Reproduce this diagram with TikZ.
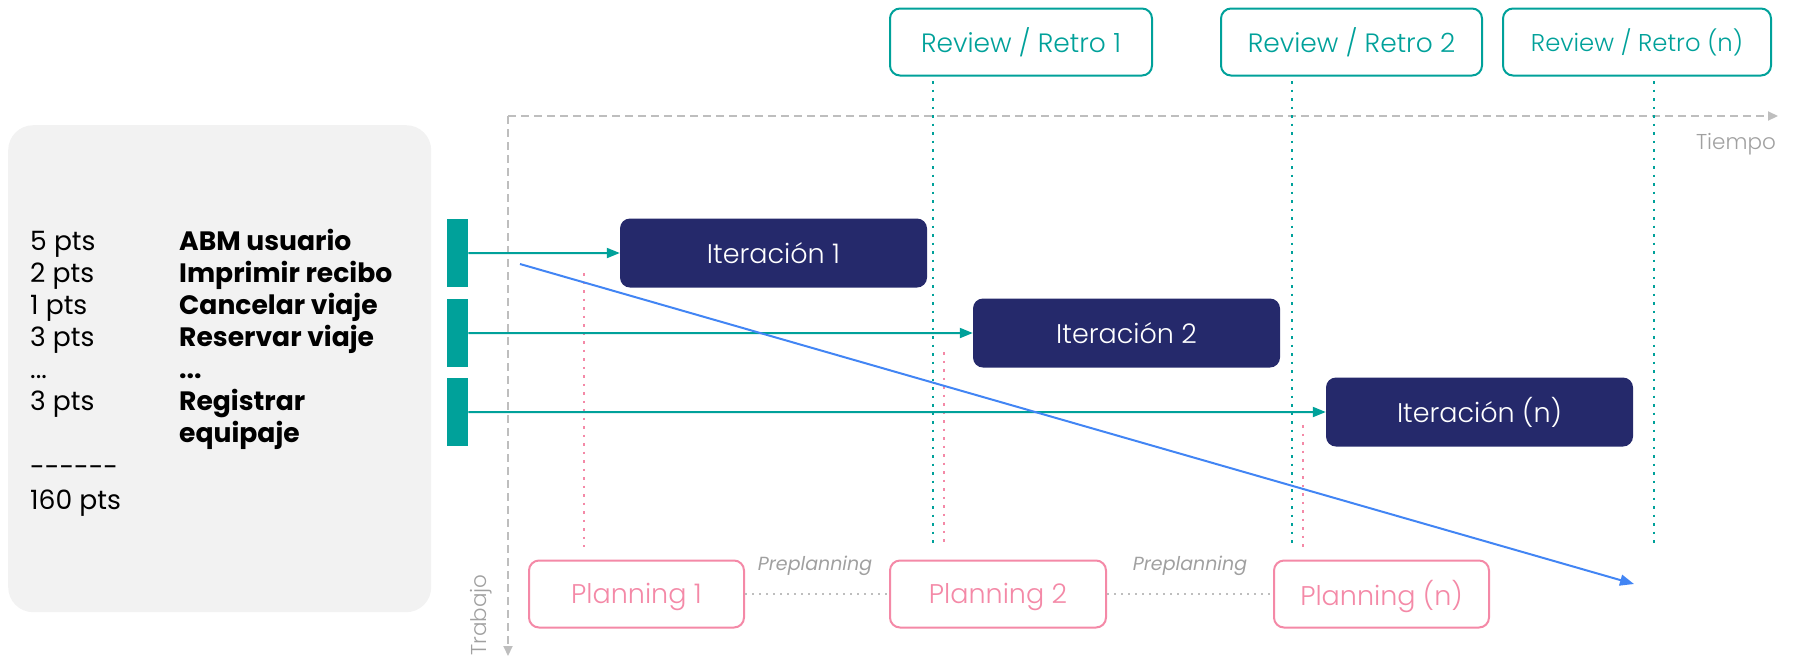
\documentclass[tikz,border=0pt]{standalone}
\usepackage{fontspec}
\setmainfont{Poppins}
\newfontfamily\poplight{Poppins Light}
\usetikzlibrary{arrows.meta}
\definecolor{tealc}{RGB}{0,161,154}
\definecolor{navy}{RGB}{37,41,107}
\definecolor{pinkc}{RGB}{244,137,167}
\definecolor{bluec}{RGB}{66,133,244}
\definecolor{panelgray}{RGB}{242,242,242}
\definecolor{axisgray}{RGB}{190,190,190}
\definecolor{labelgray}{RGB}{160,160,160}
\begin{document}
\begin{tikzpicture}[x=1pt,y=-1pt,
  txt/.style={inner sep=0pt, anchor=base west, font=\fontsize{26.6}{30}\selectfont},
  btxt/.style={txt, font=\fontsize{26.6}{30}\selectfont\bfseries},
  bar/.style={fill=tealc, draw=none, minimum width=21pt, minimum height=68pt, inner sep=0pt, anchor=north west},
  iter/.style={fill=navy, draw=none, rounded corners=10pt, minimum width=307pt, minimum height=69pt, inner sep=0pt, text=white, font=\poplight\fontsize{27}{30}\selectfont},
  review/.style={draw=tealc, line width=2pt, fill=white, rounded corners=10pt, minimum height=67pt, inner sep=0pt, text=tealc, font=\poplight\fontsize{26.5}{30}\selectfont},
  planbox/.style={draw=pinkc, line width=2pt, fill=white, rounded corners=10pt, minimum height=67pt, inner sep=0pt, text=pinkc, font=\poplight\fontsize{27}{30}\selectfont, text depth=2pt},
  axis/.style={draw=axisgray, line width=2pt, dash pattern=on 8pt off 5pt, -{Triangle[length=10pt,width=9pt]}},
  tealdot/.style={draw=tealc, line width=2.5pt, dash pattern=on 2.5pt off 6pt},
  pinkdot/.style={draw=pinkc, line width=2.5pt, dash pattern=on 2.5pt off 6pt},
  graydot/.style={draw=axisgray, line width=2pt, dash pattern=on 2pt off 5pt},
  tarrow/.style={draw=tealc, line width=2pt, -{Triangle[length=13pt,width=10pt]}},
  barrow/.style={draw=bluec, line width=2pt, -{Triangle[length=14pt,width=11pt]}},
  glabel/.style={text=labelgray, inner sep=0pt}
]
\useasboundingbox (0,0) rectangle (1806,657);

% left panel
\node[fill=panelgray, rounded corners=25pt, minimum width=423pt, minimum height=487pt, inner sep=0pt, anchor=north west] (panel) at (8,125) {};

\node[txt] (p1) at (30,250) {5 pts};
\node[txt] (p2) at (30,282) {2 pts};
\node[txt] (p3) at (30,314) {1 pts};
\node[txt] (p4) at (30,346) {3 pts};
\node[txt] (p5) at (30,378) {...};
\node[txt] (p6) at (30,410) {3 pts};
\node[txt] (sep) at (30,476) {-{}-{}-{}-{}-{}-};
\node[txt] (tot) at (30,509) {160 pts};

\node[btxt] (s1) at (179,250) {ABM usuario};
\node[btxt] (s2) at (179,282) {Imprimir recibo};
\node[btxt] (s3) at (179,314) {Cancelar viaje};
\node[btxt] (s4) at (179,346) {Reservar viaje};
\node[btxt] (s5) at (179,378) {...};
\node[btxt] (s6) at (179,410) {Registrar};
\node[btxt] (s7) at (179,442) {equipaje};

% bars
\node[bar] (bar1) at (447,219) {};
\node[bar] (bar2) at (447,299) {};
\node[bar] (bar3) at (447,378) {};

% axes
\coordinate (origin) at (508,116);
\coordinate (tend) at (1778,116);
\coordinate (wend) at (508,656);
\draw[axis] (origin) -- (tend);
\draw[axis] (origin) -- (wend);
\node[glabel, anchor=east, font=\poplight\fontsize{21.5}{24}\selectfont] (tiempo) at (1776,144) {Tiempo};
\node[glabel, rotate=90, font=\poplight\fontsize{21.5}{24}\selectfont] (trabajo) at (481,615) {Trabajo};

% review boxes
\node[review, minimum width=262pt] (r1) at (1021,42) {Review / Retro 1};
\node[review, minimum width=261pt] (r2) at (1351.5,42) {Review / Retro 2};
\node[review, minimum width=268pt, font=\poplight\fontsize{24.3}{30}\selectfont] (rn) at (1637,42) {Review / Retro (n)};

% teal dotted verticals
\coordinate (t1a) at (933,81);  \coordinate (t1b) at (933,547);
\coordinate (t2a) at (1292,81); \coordinate (t2b) at (1292,547);
\coordinate (t3a) at (1654,81); \coordinate (t3b) at (1654,547);
\draw[tealdot] (t1a) -- (t1b);
\draw[tealdot] (t2a) -- (t2b);
\draw[tealdot] (t3a) -- (t3b);

% pink dotted verticals
\coordinate (k1a) at (584,273);  \coordinate (k1b) at (584,547);
\coordinate (k2a) at (944,352);  \coordinate (k2b) at (944,547);
\coordinate (k3a) at (1303,425); \coordinate (k3b) at (1303,547);
\draw[pinkdot] (k1a) -- (k1b);
\draw[pinkdot] (k2a) -- (k2b);
\draw[pinkdot] (k3a) -- (k3b);

% iterations
\node[iter] (it1) at (773.5,253) {Iteración 1};
\node[iter] (it2) at (1126.5,333) {Iteración 2};
\node[iter] (itn) at (1479.5,412) {Iteración (n)};

\draw[tarrow] (bar1.east) -- (it1.west);
\draw[tarrow] (bar2.east) -- (it2.west);
\draw[tarrow] (bar3.east) -- (itn.west);

% blue trend
\coordinate (bstart) at (520,264);
\coordinate (bend) at (1634,584);
\draw[barrow] (bstart) -- (bend);

% planning
\node[planbox, minimum width=215pt] (pl1) at (636.5,594) {Planning 1};
\node[planbox, minimum width=216pt] (pl2) at (998,594) {Planning 2};
\node[planbox, minimum width=215pt] (pln) at (1381.5,594) {Planning (n)};
\draw[graydot] (pl1.east) -- (pl2.west);
\draw[graydot] (pl2.east) -- (pln.west);
\node[glabel, font=\fontsize{19}{22}\selectfont\itshape] (pre1) at (815,566) {Preplanning};
\node[glabel, font=\fontsize{19}{22}\selectfont\itshape] (pre2) at (1190,566) {Preplanning};
\end{tikzpicture}
\end{document}
